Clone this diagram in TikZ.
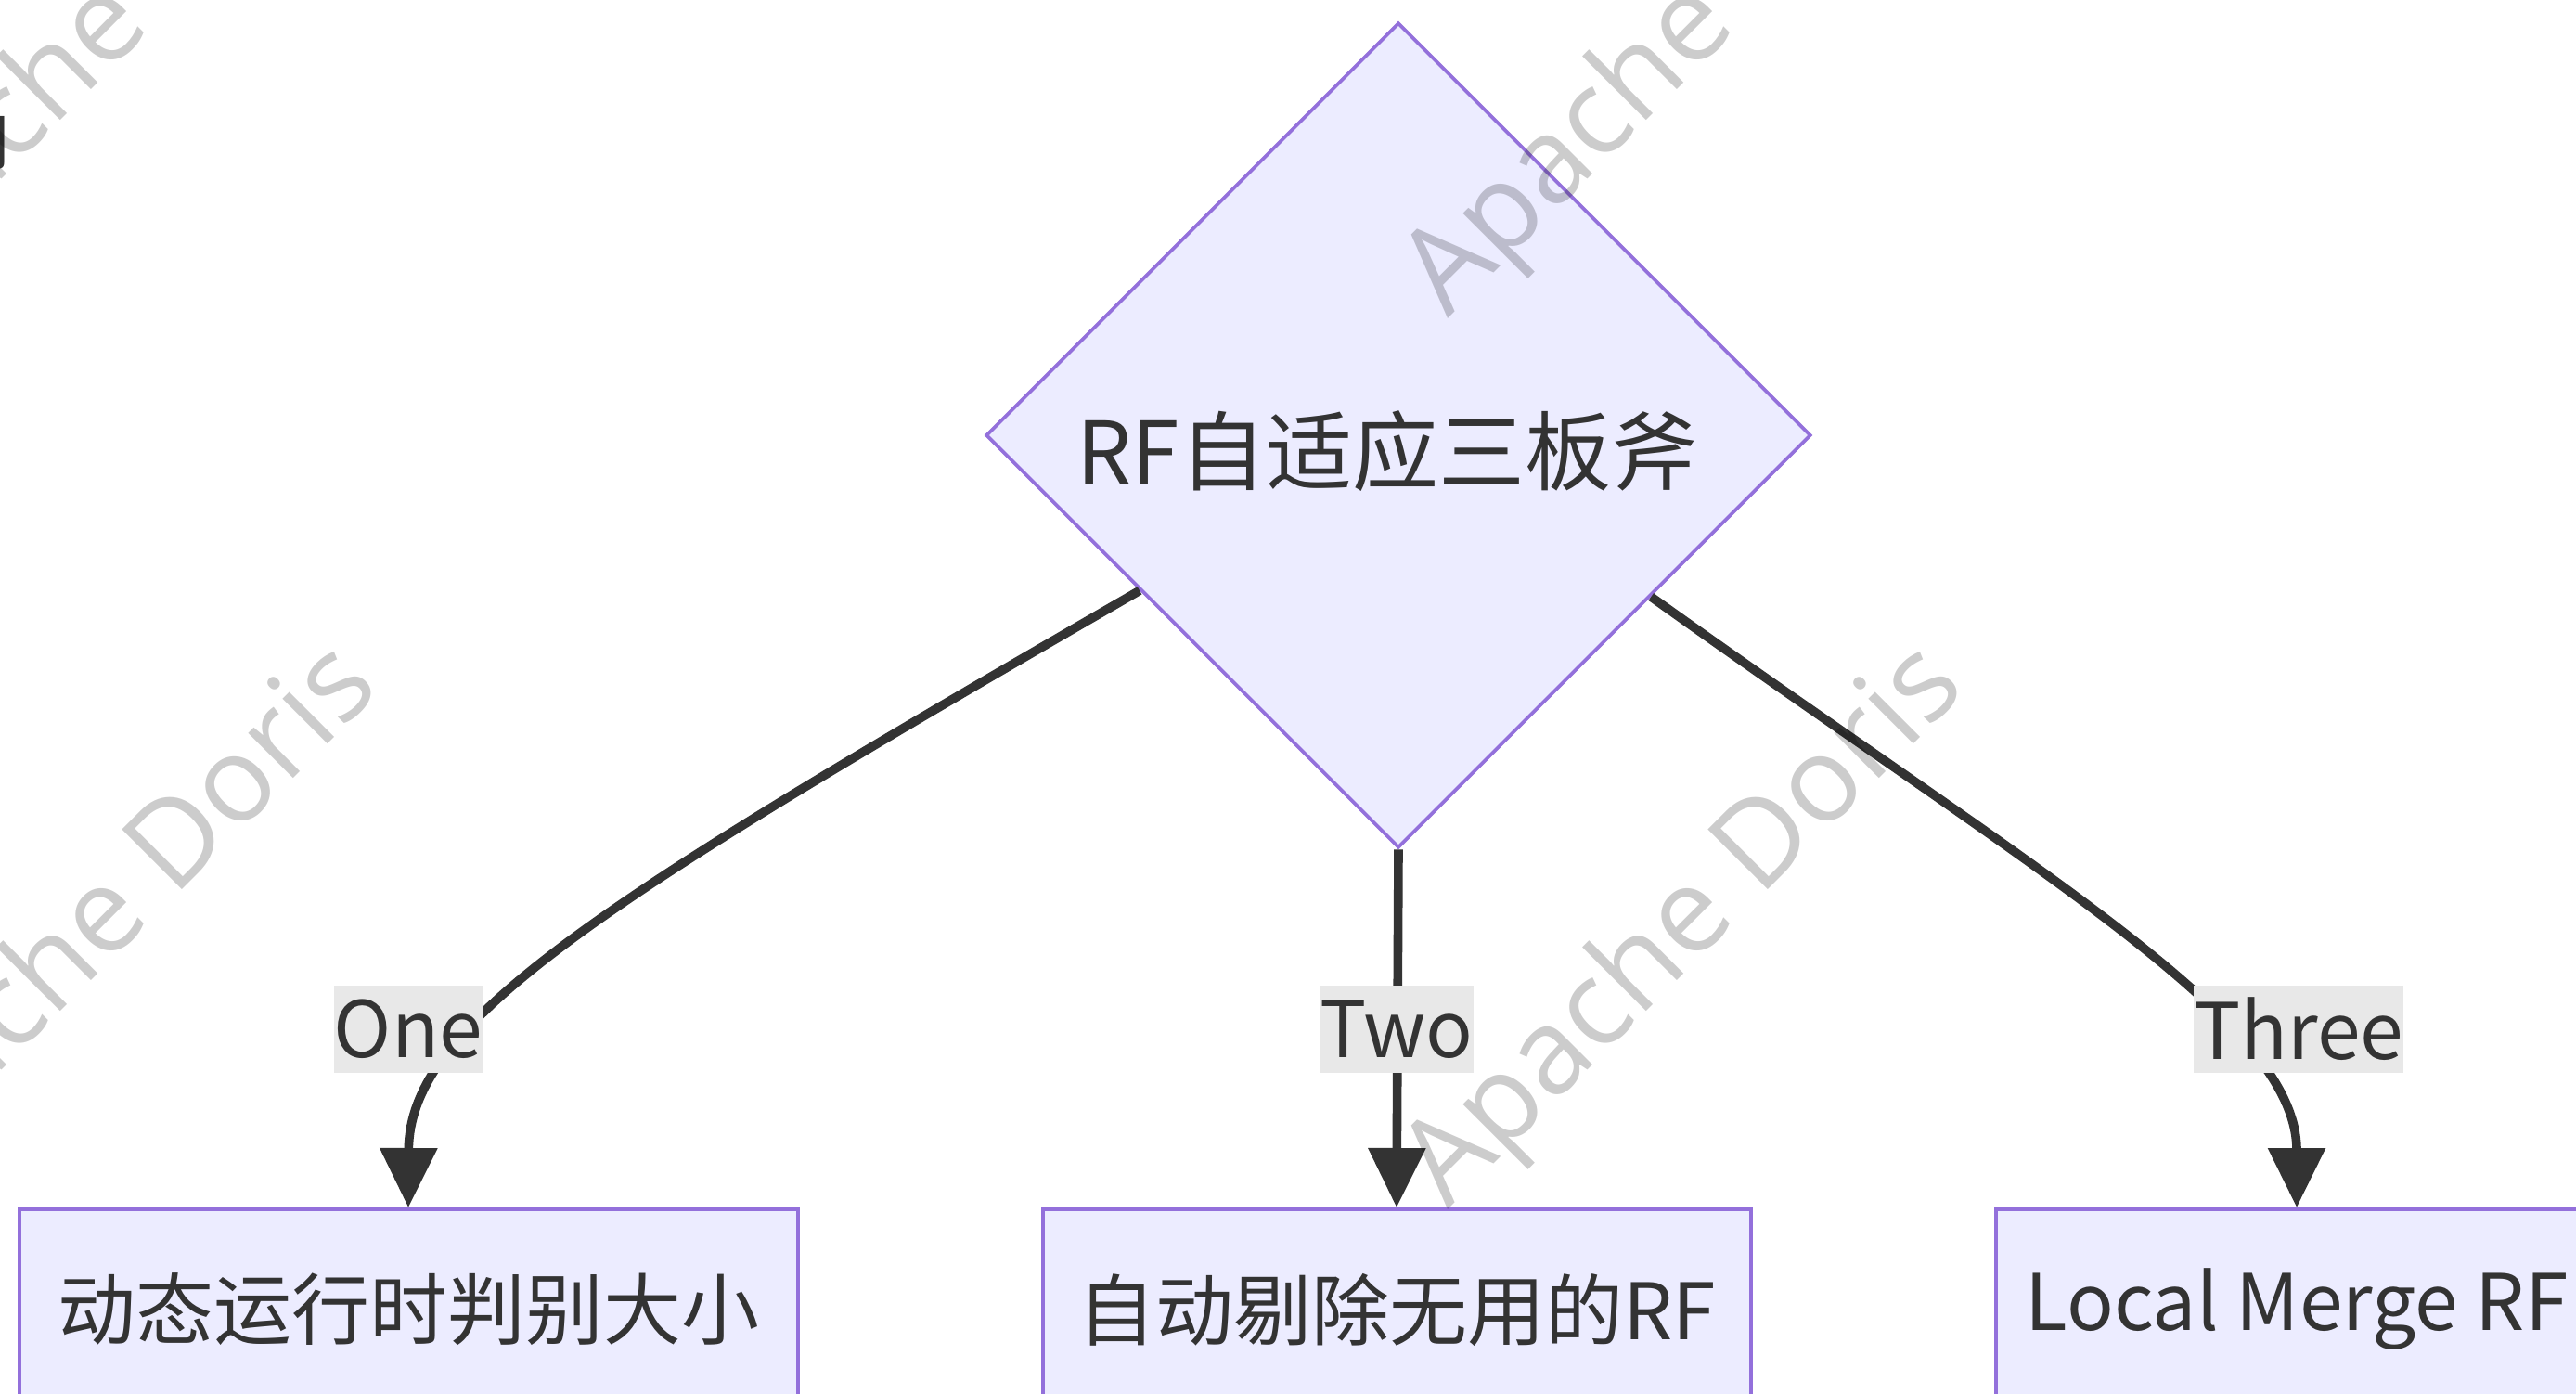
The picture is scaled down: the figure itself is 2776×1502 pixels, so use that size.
\documentclass[tikz,border=0pt]{standalone}
\usepackage{fontspec}
\setmainfont{Noto Sans CJK SC}
\newfontfamily\wmfont{Open Sans}
\usetikzlibrary{arrows.meta,shapes.geometric,calc}
\definecolor{nodefill}{HTML}{ECECFF}
\definecolor{nodeline}{HTML}{9370DB}
\definecolor{txt}{HTML}{333333}
\definecolor{lblbg}{HTML}{E8E8E8}
\begin{document}
\begin{tikzpicture}[x=0.5pt,y=-0.5pt,
  nodefont/.style={font=\fontsize{42pt}{50pt}\selectfont},
  box/.style={draw=nodeline,fill=nodefill,line width=2pt,minimum height=108pt,inner sep=0pt,text=txt,nodefont},
  decision/.style={shape=diamond,draw=nodeline,fill=nodefill,line width=1.8pt,minimum width=444.5pt,minimum height=444.5pt,inner sep=0pt,text=txt,font=\fontsize{46.5pt}{54pt}\selectfont,text height=57pt,text depth=5pt},
  flow/.style={draw=txt,line width=4.8pt,-{Triangle[length=32pt,width=30pt]}},
  elabel/.style={fill=lblbg,text=txt,inner sep=0pt,minimum height=47pt,nodefont},
  wm/.style={font=\wmfont\fontsize{64pt}{76pt}\selectfont,text=black,opacity=0.2,rotate=45,inner sep=0pt}
]
\useasboundingbox (0,0) rectangle (2776,1502);
\fill[white] (0,0) rectangle (2776,1502);

% nodes
\node[decision] (dia) at (1507,469) {RF自适应三板斧\kern12pt};
\node[box,minimum width=419.5pt] (b1) at (440,1411) {动态运行时判别大小};
\node[box,minimum width=381.5pt] (b2) at (1505,1411) {自动剔除无用的RF};
\node[box,minimum width=324pt] (b3) at (2475,1411) {Local Merge RF};

% edges
\coordinate (s1) at ($(dia.west)!0.375!(dia.south)$);
\coordinate (s3) at ($(dia.east)!0.39!(dia.south)$);
\draw[flow] (s1) .. controls (650,970) and (441,1100) .. (b1.north);
\draw[flow] (dia.south) -- (b2.north);
\draw[flow] (s3) .. controls (2200,944) and (2475,1100) .. (b3.north);

% edge labels
\node[elabel] (l1) at (440,1109) {One};
\node[elabel] (l2) at (1505,1109) {Two};
\node[elabel] (l3) at (2477,1109) {Three};

% cut-off text fragment at left edge
\node[anchor=east,inner sep=0pt,text=txt,nodefont] (frag) at (16,145) {角};

% watermarks
\node[wm] (wm1) at (1817,1000) {Apache Doris};
\node[wm] (wm2) at (108,1000) {Apache Doris};
\node[wm] (wm3) at (1817,40) {Apache Doris};
\node[wm] (wm4) at (108,40) {Apache Doris};
\end{tikzpicture}
\end{document}
